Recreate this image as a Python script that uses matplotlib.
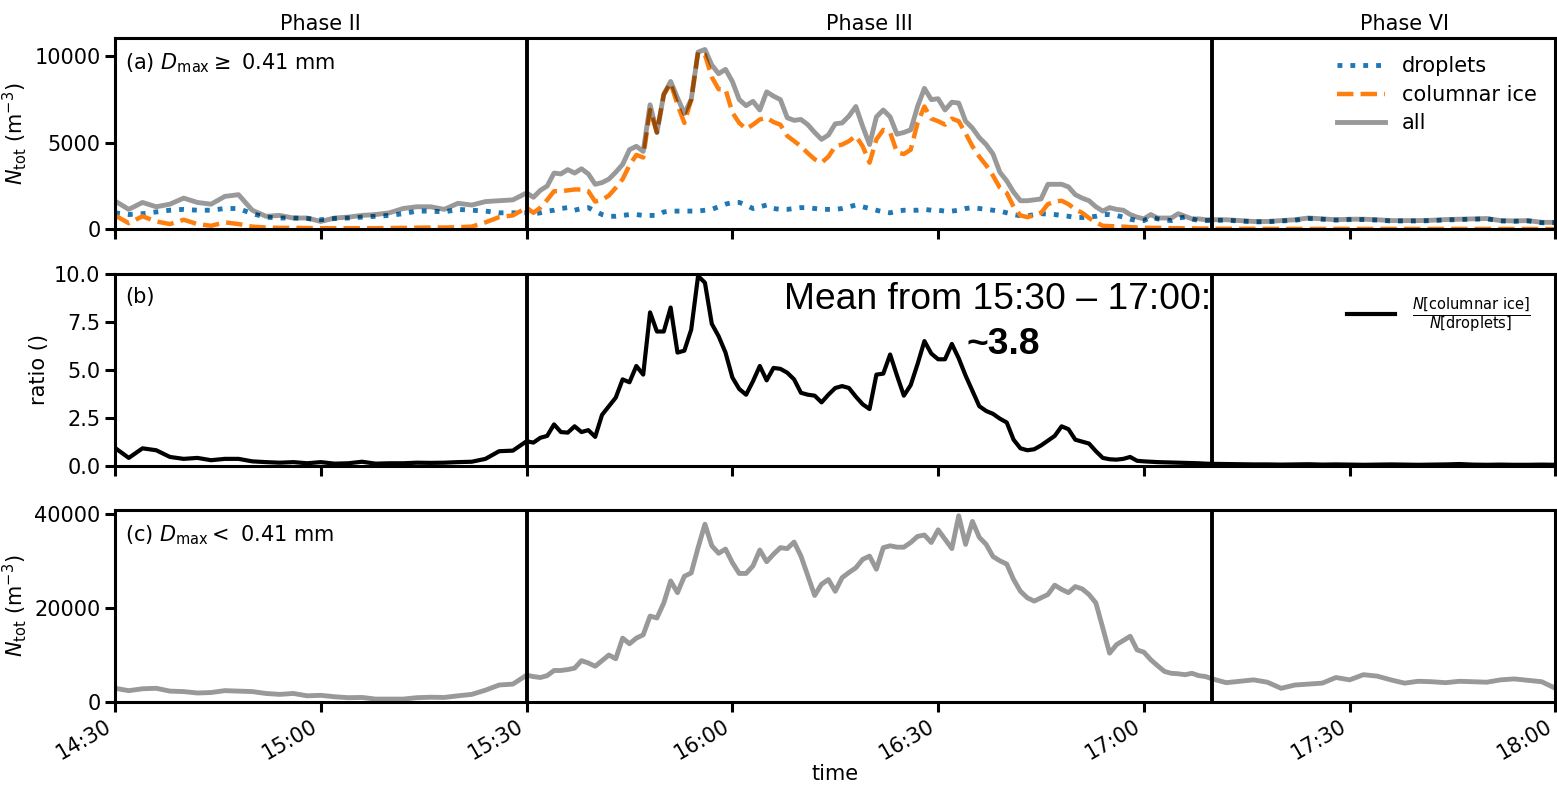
import numpy as np
import pandas as pd
import matplotlib.pyplot as plt
import matplotlib.dates as md
import matplotlib.transforms as mtransforms

plt.rcParams["font.size"] = 15
plt.rcParams["axes.linewidth"] = 2.2
for ax_name in ["xtick", "ytick"]:
    plt.rcParams[ax_name + ".major.size"] = 7
    plt.rcParams[ax_name + ".major.width"] = 2.2
    plt.rcParams[ax_name + ".labelsize"] = 15

# sampling: 2 min in phase II and VI, 1 min in phase III
minutes = list(range(0, 60, 2)) + list(range(60, 160)) + list(range(160, 211, 2))
time = pd.Timestamp("2019-01-01 14:30") + pd.to_timedelta(minutes, unit="min")

# ---- (a) D_max >= 0.41 mm ----
droplets_p2 = [950, 850, 900, 1000, 1100, 1150, 1100, 1100, 1200, 1200,
               900, 700, 650, 650, 620, 550, 620, 650, 700, 750,
               800, 900, 1050, 1050, 1000, 1150, 1100, 1050, 950, 950]
droplets_p3 = [950, 880, 950, 1050, 1100, 1200, 1250, 1100, 1200, 1250,
               1050, 850, 750, 750, 800, 850, 850, 800, 800, 800,
               1000, 1050, 1050, 1050, 1050, 1050, 1100, 1150, 1300, 1450,
               1550, 1550, 1400, 1200, 1300, 1400, 1200, 1150, 1150, 1200,
               1250, 1250, 1200, 1150, 1150, 1150, 1200, 1300, 1400, 1300,
               1200, 1100, 1000, 950, 1050, 1100, 1100, 1100, 1150, 1100,
               1100, 1050, 1050, 1100, 1200, 1250, 1200, 1150, 1100, 1050,
               950, 850, 780, 770, 850, 900, 880, 850, 800, 750,
               680, 680, 700, 750, 850, 850, 800, 700, 580, 500,
               500, 700, 600, 550, 500, 650, 700, 600, 500, 500]
droplets_p6 = [520, 520, 480, 430, 430, 480, 520, 620, 580, 530,
               560, 560, 530, 480, 480, 480, 500, 540, 560, 580,
               600, 480, 460, 480, 380, 380]

columnar_p2 = [800, 350, 750, 450, 300, 550, 300, 200, 400, 300,
               150, 100, 80, 80, 70, 60, 60, 60, 60, 60,
               70, 80, 90, 100, 100, 120, 150, 400, 700, 800]
columnar_p3 = [1250, 950, 1250, 1700, 2200, 2200, 2250, 2300, 2300, 2200,
               1600, 1700, 1950, 2400, 2900, 3700, 4300, 4150, 6900, 5600,
               7800, 8450, 7200, 6150, 7500, 10250, 10100, 8800, 8100, 8100,
               6750, 6150, 5800, 6050, 6350, 6450, 6200, 6050, 5400, 5100,
               4800, 4400, 4050, 3850, 4200, 4800, 4900, 5100, 5400, 4800,
               3850, 5200, 5750, 5600, 4450, 4350, 4600, 6150, 7100, 6400,
               6250, 6050, 6400, 6250, 5550, 4800, 4200, 3700, 3100, 2400,
               2100, 1300, 800, 700, 800, 950, 1450, 1600, 1650, 1450,
               1150, 950, 650, 400, 200, 180, 170, 150, 120, 100,
               90, 80, 80, 70, 60, 60, 50, 50, 40, 40]
columnar_p6 = [30, 30, 25, 25, 20, 20, 20, 25, 25, 20,
               20, 20, 20, 20, 15, 15, 15, 20, 20, 15,
               15, 15, 15, 15, 10, 10]

all_p2 = [1630, 1150, 1550, 1300, 1450, 1800, 1550, 1450, 1900, 2000,
          1100, 750, 800, 650, 650, 450, 650, 700, 800, 850,
          950, 1200, 1300, 1300, 1150, 1500, 1400, 1600, 1650, 1700]
all_p3 = [2100, 1850, 2250, 2500, 3250, 3200, 3450, 3250, 3500, 3200,
          2600, 2700, 2900, 3300, 3750, 4600, 4800, 4500, 7200, 5600,
          7800, 8550, 7600, 6700, 7500, 10250, 10400, 9500, 9000, 9250,
          8550, 7500, 7150, 7400, 6900, 7950, 7700, 7500, 6450, 6300,
          6350, 6050, 5600, 5200, 5450, 6100, 6150, 6550, 7100, 5950,
          4900, 6500, 6900, 6500, 5500, 5600, 5750, 7100, 8150, 7500,
          7550, 6900, 7350, 7300, 6250, 5850, 5300, 4900, 4350, 3300,
          2800, 2150, 1650, 1650, 1700, 1750, 2600, 2600, 2600, 2450,
          2000, 1800, 1650, 1300, 1050, 1250, 1150, 1100, 850, 700,
          600, 850, 650, 650, 650, 900, 750, 600, 600, 550]
all_p6 = [550, 550, 500, 450, 450, 500, 550, 650, 600, 550,
          580, 580, 550, 500, 500, 500, 520, 560, 580, 600,
          620, 500, 480, 500, 400, 400]

# ---- (b) ratio columnar ice / droplets ----
ratio_p2 = [0.92, 0.40, 0.90, 0.80, 0.45, 0.35, 0.40, 0.28, 0.35, 0.35,
            0.22, 0.18, 0.15, 0.18, 0.12, 0.18, 0.10, 0.12, 0.20, 0.10,
            0.12, 0.12, 0.15, 0.14, 0.15, 0.18, 0.20, 0.35, 0.75, 0.78]
ratio_p3 = [1.27, 1.2, 1.45, 1.55, 2.15, 1.75, 1.72, 2.05, 1.75, 1.85,
            1.5, 2.65, 3.1, 3.55, 4.5, 4.35, 5.2, 4.75, 8.0, 7.0,
            7.0, 8.25, 5.9, 6.0, 7.1, 9.9, 9.55, 7.4, 6.75, 5.9,
            4.6, 4.0, 3.7, 4.4, 5.2, 4.45, 5.1, 5.05, 4.85, 4.5,
            3.8, 3.7, 3.65, 3.3, 3.7, 4.05, 4.15, 4.05, 3.6, 3.2,
            2.95, 4.75, 4.8, 5.8, 4.7, 3.65, 4.2, 5.3, 6.5, 5.85,
            5.55, 5.55, 6.35, 5.6, 4.7, 3.9, 3.1, 2.85, 2.7, 2.45,
            2.25, 1.35, 0.9, 0.8, 0.85, 1.05, 1.3, 1.55, 2.05, 1.9,
            1.35, 1.25, 1.15, 0.75, 0.4, 0.33, 0.31, 0.35, 0.45, 0.25,
            0.22, 0.2, 0.18, 0.17, 0.16, 0.15, 0.14, 0.13, 0.12, 0.1]
ratio_p6 = [0.09, 0.08, 0.07, 0.06, 0.06, 0.05, 0.06, 0.07, 0.05, 0.06,
            0.05, 0.04, 0.05, 0.06, 0.05, 0.04, 0.05, 0.06, 0.08, 0.05,
            0.04, 0.05, 0.04, 0.04, 0.05, 0.04]

# ---- (c) D_max < 0.41 mm ----
small_p2 = [2900, 2400, 2800, 2900, 2300, 2200, 1900, 2000, 2400, 2300,
            2200, 1800, 1600, 1800, 1300, 1400, 1100, 900, 950, 600,
            600, 600, 900, 1000, 950, 1300, 1600, 2500, 3600, 3800]
small_p3 = [5700, 5400, 5200, 5600, 6700, 6700, 6900, 7200, 8800, 8300,
            7600, 8800, 10000, 9200, 13600, 12400, 13600, 14300, 18300, 17900,
            21100, 25800, 23300, 26800, 27500, 32900, 37900, 33300, 31700, 32600,
            29700, 27400, 27400, 29000, 32400, 29900, 31500, 32900, 32700, 34100,
            31100, 26900, 22700, 25100, 26100, 23600, 26500, 27600, 28600, 30400,
            31100, 28300, 32900, 33300, 33000, 33000, 34000, 35300, 35600, 34000,
            36700, 34700, 32700, 39700, 33600, 38500, 35100, 33600, 31000, 30100,
            29400, 26100, 23600, 22200, 21500, 22200, 22900, 24900, 24000, 23300,
            24600, 24100, 22900, 21100, 15800, 10400, 12200, 13100, 14000, 11100,
            10600, 9000, 7700, 6500, 6100, 6000, 5800, 6100, 5600, 5400]
small_p6 = [4900, 4100, 4400, 4700, 4200, 2900, 3600, 3800, 4000, 5200,
            4700, 5800, 5500, 4700, 4000, 4400, 4300, 4100, 4400, 4300,
            4200, 4700, 4900, 4600, 4300, 2900]

droplets = droplets_p2 + droplets_p3 + droplets_p6
columnar = columnar_p2 + columnar_p3 + columnar_p6
all_large = all_p2 + all_p3 + all_p6
ratio = ratio_p2 + ratio_p3 + ratio_p6
all_small = small_p2 + small_p3 + small_p6

phase_bounds = ["2019-01-01 15:30", "2019-01-01 17:10"]
phase_names = ["Phase II", "Phase III", "Phase VI"]
phase_centers = ["2019-01-01 15:00", "2019-01-01 16:20", "2019-01-01 17:38"]

fig, ax = plt.subplots(3, 1, figsize=(15.57, 7.86), dpi=100, sharex=True)
fig.subplots_adjust(left=0.0739, right=0.999, top=0.952, bottom=0.107, hspace=0.234)

ax[0].plot(time, droplets, ":", color="tab:blue", lw=3.5, label="droplets")
ax[0].plot(time, columnar, "--", color="tab:orange", lw=3.2, label="columnar ice")
ax[0].plot(time, all_large, "-", color="k", alpha=0.4, lw=3.5, label="all")
ax[0].set_ylim(0, 11080)
ax[0].set_yticks([0, 5000, 10000])
ax[0].set_ylabel(r"$N_\mathrm{tot}$ (m$^{-3}$)")
ax[0].legend(loc="upper right", frameon=False, handlelength=2.3, fontsize=15,
             labelspacing=0.4)
ax[0].text(0.007, 0.93, r"(a) $D_\mathrm{max} \geq$ 0.41 mm", transform=ax[0].transAxes,
           ha="left", va="top")

ax[1].plot(time, ratio, "-", color="k", lw=3,
           label=r"$\frac{N[\mathrm{columnar\ ice}]}{N[\mathrm{droplets}]}$")
ax[1].set_ylim(0, 10)
ax[1].set_yticks([0, 2.5, 5, 7.5, 10])
ax[1].set_yticklabels(["0.0", "2.5", "5.0", "7.5", "10.0"])
ax[1].set_ylabel("ratio ()")
ax[1].legend(loc="upper right", frameon=False, handlelength=2.3, fontsize=15,
             bbox_to_anchor=(0.996, 0.985))
ax[1].text(0.007, 0.93, "(b)", transform=ax[1].transAxes, ha="left", va="top")
ax[1].text(0.761, 0.817, "Mean from 15:30 \u2013 17:00:", transform=ax[1].transAxes,
           ha="right", va="baseline", fontsize=26.8, family="Liberation Sans")
ax[1].text(0.591, 0.581, "~3.8", transform=ax[1].transAxes, ha="left", va="baseline",
           fontsize=26.8, family="Liberation Sans", fontweight="bold")

ax[2].plot(time, all_small, "-", color="k", alpha=0.4, lw=3.5)
ax[2].set_ylim(0, 40850)
ax[2].set_yticks([0, 20000, 40000])
ax[2].set_ylabel(r"$N_\mathrm{tot}$ (m$^{-3}$)")
ax[2].text(0.007, 0.93, r"(c) $D_\mathrm{max} <$ 0.41 mm", transform=ax[2].transAxes,
           ha="left", va="top")
ax[2].set_xlabel("time", labelpad=0)

for a in ax:
    for b in phase_bounds:
        a.axvline(pd.Timestamp(b), color="k", lw=2.8)
    a.tick_params(direction="out")

trans = mtransforms.blended_transform_factory(ax[0].transData, ax[0].transAxes)
for name, c in zip(phase_names, phase_centers):
    ax[0].text(pd.Timestamp(c), 1.042, name, transform=trans, ha="center", va="baseline")

ax[2].set_xlim(pd.Timestamp("2019-01-01 14:30"), pd.Timestamp("2019-01-01 18:00"))
ax[2].xaxis.set_major_locator(md.MinuteLocator(byminute=[0, 30]))
ax[2].xaxis.set_major_formatter(md.DateFormatter("%H:%M"))
plt.setp(ax[2].get_xticklabels(), rotation=30, ha="right")

fig.savefig("out.png", dpi=100)
